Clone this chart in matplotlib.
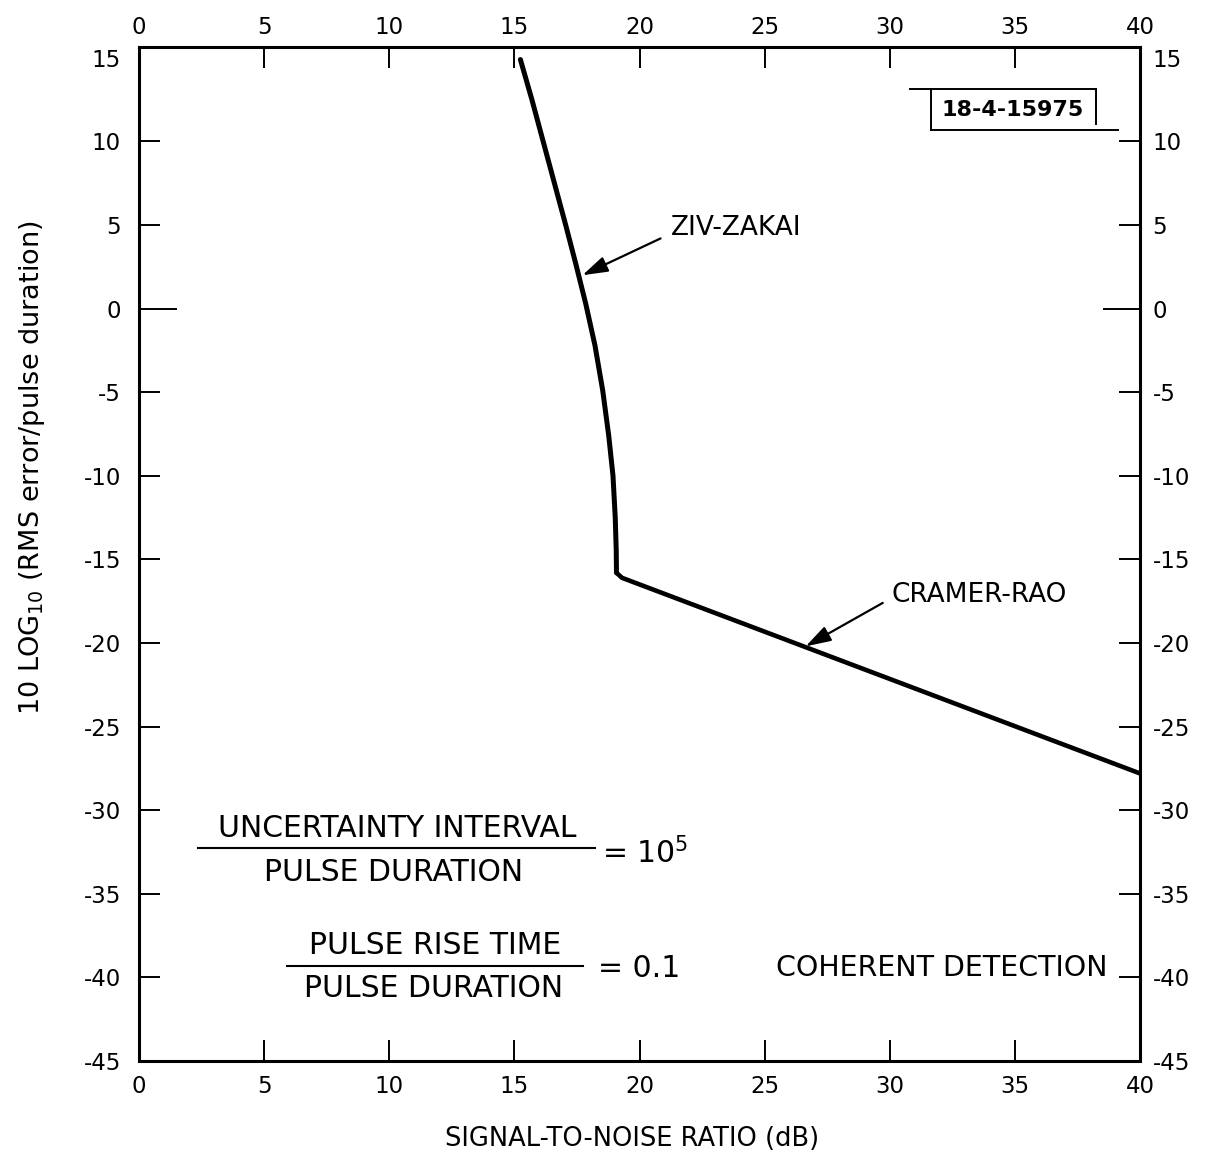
import matplotlib
matplotlib.use("Agg")
import matplotlib.pyplot as plt
from matplotlib.lines import Line2D

# ---- data ----
ziv_snr = [15.24, 15.7, 16.15, 16.6, 17.05, 17.45, 17.85, 18.22, 18.53, 18.77, 18.94, 19.03, 19.07, 19.08]
ziv_err = [14.9, 12.5, 10.0, 7.5, 5.0, 2.7, 0.3, -2.2, -4.9, -7.6, -10.0, -12.5, -14.5, -15.8]
cr_snr = [19.08, 19.3, 40.0]
cr_err = [-15.8, -16.1, -27.8]

x_ticks = [0, 5, 10, 15, 20, 25, 30, 35, 40]
y_ticks = [-45, -40, -35, -30, -25, -20, -15, -10, -5, 0, 5, 10, 15]

plt.rcParams['font.family'] = ['DejaVu Sans']
plt.rcParams['mathtext.default'] = 'regular'

fig = plt.figure(figsize=(12.08, 11.52), dpi=100)
ax = fig.add_axes([0.1151, 0.0790, 0.8286, 0.8802])

ax.plot(ziv_snr, ziv_err, color='black', lw=3.6, solid_capstyle='round', solid_joinstyle='round')
ax.plot(cr_snr, cr_err, color='black', lw=3.3, solid_capstyle='round', solid_joinstyle='round')

ax.set_xlim(0, 40)
ax.set_ylim(-45, 15.65)
ax.set_xticks(x_ticks)
ax.set_yticks(y_ticks)
ax.set_xticklabels([str(v) for v in x_ticks])
ax.set_yticklabels([str(v) for v in y_ticks])

TS = 16.5
ax.tick_params(axis='both', direction='in', length=15, width=1.4, color='black',
               labelsize=TS, top=True, right=True, labeltop=False, labelright=False)
ax.tick_params(axis='y', pad=13)
ax.tick_params(axis='x', pad=10)

# top and right labels
secx = ax.secondary_xaxis('top')
secx.set_xticks(x_ticks)
secx.set_xticklabels([str(v) for v in x_ticks])
secx.tick_params(length=0, pad=6, labelsize=TS)
secy = ax.secondary_yaxis('right')
secy.set_yticks(y_ticks)
secy.set_yticklabels([str(v) for v in y_ticks])
secy.tick_params(length=0, pad=9, labelsize=TS)
for s in list(secx.spines.values()) + list(secy.spines.values()):
    s.set_visible(False)

# longer tick at 0, hide tick at 15
for tk, v in zip(ax.yaxis.get_major_ticks(), y_ticks):
    if v == 0:
        tk.tick1line.set_markersize(27)
        tk.tick2line.set_markersize(27)
    if v == 15:
        tk.tick1line.set_visible(False)
        tk.tick2line.set_visible(False)

for s in ax.spines.values():
    s.set_linewidth(2.2)
    s.set_color('black')

ax.set_xlabel('SIGNAL-TO-NOISE RATIO (dB)', fontsize=18.5, va='top')
ax.xaxis.set_label_coords(0.4925, -0.064)
ax.set_ylabel(r'10 LOG$_{10}$ (RMS error/pulse duration)', fontsize=19.5)
ax.yaxis.set_label_coords(-0.092, 0.585)

# curve annotations
arrow_kw = dict(arrowstyle='-|>,head_length=0.7,head_width=0.22', color='black', lw=1.6,
                mutation_scale=22, shrinkA=0, shrinkB=0)
ax.annotate('', xy=(17.72, 2.0), xytext=(20.84, 4.2), arrowprops=arrow_kw)
ax.text(21.25, 4.8, 'ZIV-ZAKAI', fontsize=19, va='center', ha='left')
ax.annotate('', xy=(26.64, -20.2), xytext=(29.72, -17.6), arrowprops=arrow_kw)
ax.text(30.05, -17.1, 'CRAMER-RAO', fontsize=19, va='center', ha='left')

# fractions
T = ax.transAxes
FS = 21.5
ax.text(0.258, 0.229, 'UNCERTAINTY INTERVAL', transform=T, fontsize=FS, ha='center', va='center')
ax.add_line(Line2D([0.059, 0.456], [0.210, 0.210], transform=T, color='black', lw=1.5))
ax.text(0.254, 0.186, 'PULSE DURATION', transform=T, fontsize=FS, ha='center', va='center')
ax.text(0.4625, 0.205, r'= 10$^5$', transform=T, fontsize=FS, ha='left', va='center')

ax.text(0.296, 0.1135, 'PULSE RISE TIME', transform=T, fontsize=FS, ha='center', va='center')
ax.add_line(Line2D([0.148, 0.4436], [0.094, 0.094], transform=T, color='black', lw=1.5))
ax.text(0.294, 0.071, 'PULSE DURATION', transform=T, fontsize=FS, ha='center', va='center')
ax.text(0.4585, 0.091, '= 0.1', transform=T, fontsize=FS, ha='left', va='center')

ax.text(0.968, 0.092, 'COHERENT DETECTION', transform=T, fontsize=20.5, ha='right', va='center')

# figure id box
ax.add_line(Line2D([0.770, 0.956], [0.9585, 0.9585], transform=T, color='black', lw=1.4))
ax.add_line(Line2D([0.791, 0.978], [0.918, 0.918], transform=T, color='black', lw=1.4))
ax.add_line(Line2D([0.791, 0.791], [0.918, 0.9585], transform=T, color='black', lw=1.4))
ax.add_line(Line2D([0.956, 0.956], [0.924, 0.9585], transform=T, color='black', lw=1.4))
ax.text(0.873, 0.938, '18-4-15975', transform=T, fontsize=16, fontweight='bold',
        family=['Liberation Sans Narrow', 'DejaVu Sans'], ha='center', va='center')

fig.savefig('out.png', dpi=100)
